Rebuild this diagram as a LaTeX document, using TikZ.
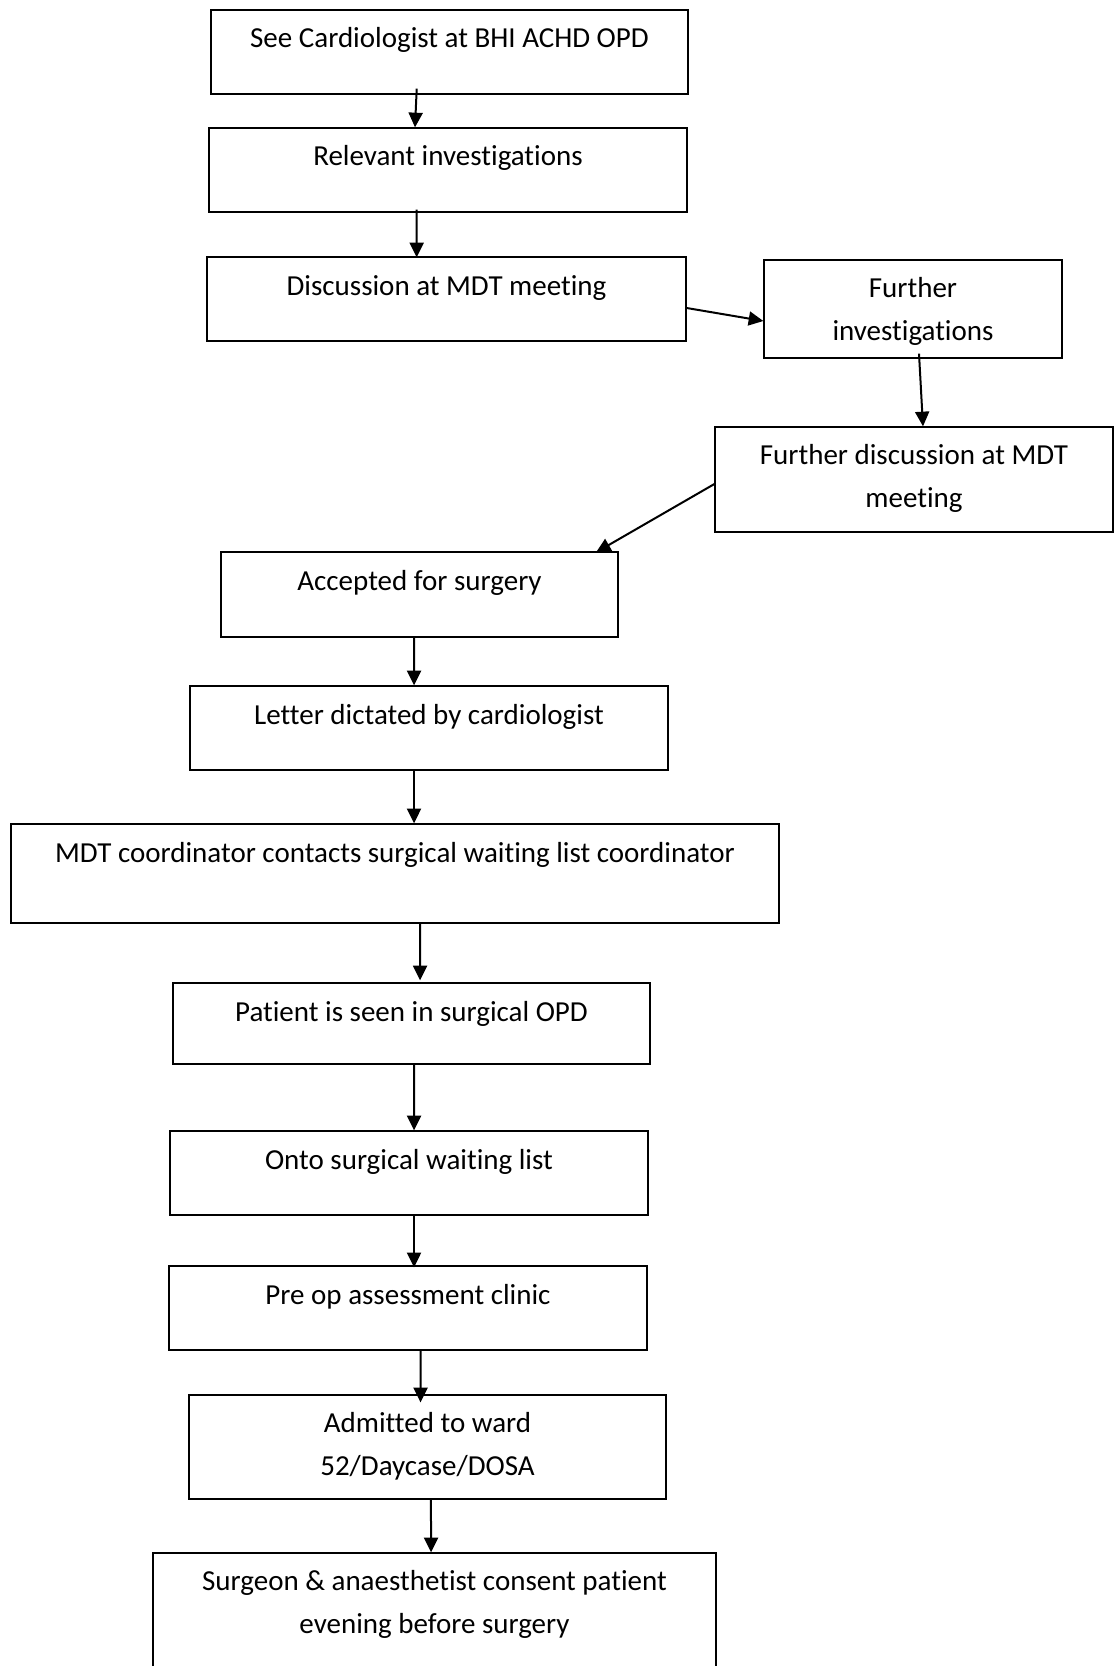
\documentclass[tikz,border=0pt]{standalone}
\usepackage{fontspec}
\setmainfont[Ligatures=NoCommon]{Carlito}
\usetikzlibrary{arrows.meta}
\tikzset{
  boxst/.style={draw=black, line width=1pt, rectangle, inner sep=0pt},
  txt/.style={align=center, inner sep=0pt, anchor=base, font=\fontsize{21.75pt}{31.9pt}\selectfont},
  arr/.style={line width=1.5pt, -{Triangle[length=11pt, width=10.5pt]}}
}
% [extra lines], name, left, top, right, bottom, text
\newcommand\flowbox[7][0]{%
  \node[boxst, minimum width={(#5-#3)*0.75pt}, minimum height={(#6-#4)*0.75pt}] (#2) at ({(#3+#5)/2},{(#4+#6)/2}) {};
  \node[txt] (#2t) at ({(#3+#5)/2},{#4+38+42.5*#1}) {#7};
}
\begin{document}
\begin{tikzpicture}[x=0.75pt, y=-0.75pt]
\useasboundingbox (0,0) rectangle (1120,1666);
\clip (0,0) rectangle (1120,1666);
\fill[white] (0,0) rectangle (1120,1666);
\flowbox{b1}{211}{10}{688}{94}{See Cardiologist at BHI ACHD OPD}
\flowbox{b2}{209}{128}{687}{212}{Relevant investigations}
\flowbox{b3}{207}{257}{686}{341}{Discussion at MDT meeting}
\flowbox[1]{b4}{764}{260}{1062}{358}{Further\\investigations}
\flowbox[1]{b5}{715}{427}{1113}{532}{Further discussion at MDT\\meeting}
\flowbox{b6}{221}{552}{618}{637}{Accepted for surgery}
\flowbox{b7}{190}{686}{668}{770}{Letter dictated by cardiologist}
\flowbox{b8}{11}{824}{779}{923}{MDT coordinator contacts surgical waiting list coordinator}
\flowbox{b9}{173}{983}{650}{1064}{Patient is seen in surgical OPD}
\flowbox{b10}{170}{1131}{648}{1215}{Onto surgical waiting list}
\flowbox{b11}{169}{1266}{647}{1350}{Pre op assessment clinic}
\flowbox[1]{b12}{189}{1395}{666}{1499}{Admitted to ward\\52/Daycase/DOSA}
\flowbox[1]{b13}{153}{1553}{716}{1720}{Surgeon \& anaesthetist consent patient\\evening before surgery}

\draw[arr] ([xshift=-24.6pt,yshift=4.5pt]b1.south) -- ([xshift=-24.75pt]b2.north);
\draw[arr] ([xshift=-23.5pt,yshift=2.25pt]b2.south) -- ([xshift=-22.35pt,yshift=-0.75pt]b3.north);
\draw[arr] ([yshift=-6.75pt]b3.east) -- ([yshift=-9pt]b4.west);
\draw[arr] ([xshift=4.5pt,yshift=3.75pt]b4.south) -- ([xshift=6.75pt]b5.north);
\draw[arr] ([yshift=-3.4pt]b5.west) -- ([xshift=132.4pt,yshift=-0.75pt]b6.north);
\draw[arr] ([xshift=-4.1pt]b6.south) -- ([xshift=-11.25pt]b7.north);
\draw[arr] ([xshift=-11.25pt]b7.south) -- ([xshift=14.25pt]b8.north);
\draw[arr] ([xshift=18.75pt]b8.south) -- ([xshift=6.4pt,yshift=1.5pt]b9.north);
\draw[arr] ([xshift=1.9pt]b9.south) -- ([xshift=3.75pt]b10.north);
\draw[arr] ([xshift=3.75pt]b10.south) -- ([xshift=4.5pt,yshift=-1.5pt]b11.north);
\draw[arr] ([xshift=9.4pt]b11.south) -- ([xshift=-5.25pt,yshift=-6pt]b12.north);
\draw[arr] ([xshift=2.6pt]b12.south) -- ([xshift=-2.6pt]b13.north);
\end{tikzpicture}
\end{document}
